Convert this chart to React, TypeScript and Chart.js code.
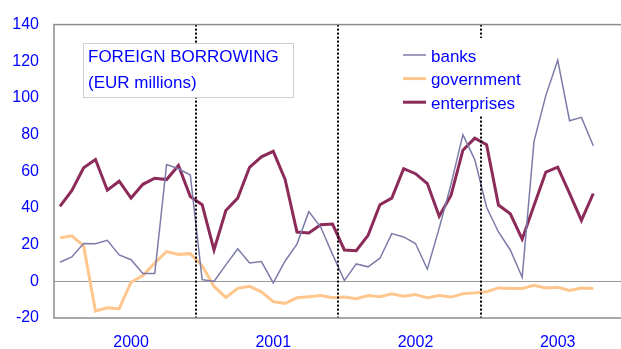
import React, { useEffect, useRef } from 'react';
import { Chart, registerables } from 'chart.js';

Chart.register(...registerables);

const years = ['2000', '2001', '2002', '2003'];
const months = ['Jan', 'Feb', 'Mar', 'Apr', 'May', 'Jun', 'Jul', 'Aug', 'Sep', 'Oct', 'Nov', 'Dec'];
const categories = years.flatMap((y) => months.map((m) => `${m} ${y}`));

const banks = [
  10.4, 13.3, 20.6, 20.5, 22.4, 14.4, 11.8, 4.3, 4.3, 63.7, 61.4, 58,
  0.9, 0, 9, 17.8, 10, 10.8, -0.9, 11.1, 20.3, 38, 29.6, 14.7,
  0.4, 9.5, 7.9, 12.6, 26, 24.2, 20.6, 6.6, 29, 53, 80, 66.4,
  40.4, 26.9, 17.1, 2.2, 76.3, 101.4, 120.6, 87.6, 89.4, 73.9,
];
const government = [
  23.7, 24.8, 19.4, -16.2, -14.4, -14.9, -0.5, 3.2, 10, 16.2, 14.7, 15.1,
  8.5, -2.8, -8.8, -3.8, -2.7, -5.7, -11.1, -12, -9, -8.4, -7.7, -9,
  -8.6, -9.5, -7.7, -8.4, -6.8, -8.1, -7.2, -9, -7.8, -8.6, -6.8, -6.3,
  -5.7, -3.6, -3.9, -3.9, -2.2, -3.6, -3.2, -5, -3.6, -3.9,
];
const enterprises = [
  40.9, 49.4, 61.9, 66.4, 49.7, 54.6, 45.4, 52.9, 56.2, 55.5, 63.2, 46.3,
  41.8, 17.1, 38.6, 45.4, 62.2, 67.9, 70.9, 55.6, 26.9, 26.4, 30.9, 31.2,
  17.1, 16.7, 25.1, 41.8, 45.4, 61.4, 58.7, 53.3, 35.5, 47, 71.5, 78.1,
  74.5, 41.6, 36.8, 23, 41.3, 59.6, 62.3, 47.9, 33.2, 47.9,
];
const yMin = -20;
const yMax = 140;
const yStep = 20;
const titleLines = ['FOREIGN BORROWING', '(EUR millions)'];

const FONT = '"Liberation Sans", Arial, sans-serif';
const BLUE = '#0000FF';

const decorPlugin = {
  id: 'decor',
  beforeDatasetsDraw(chart: any) {
    const { ctx, chartArea: a, scales } = chart;
    const y0 = Math.round(scales.y.getPixelForValue(0)) + 0.5;
    ctx.save();
    ctx.strokeStyle = '#9a9a9a';
    ctx.lineWidth = 1;
    ctx.beginPath();
    ctx.moveTo(a.left, y0);
    ctx.lineTo(a.right, y0);
    ctx.stroke();
    ctx.restore();
  },
  afterDatasetsDraw(chart: any) {
    const { ctx, chartArea: a, scales } = chart;
    const xs = scales.x;
    ctx.save();
    // year dividers
    ctx.strokeStyle = '#000000';
    ctx.lineWidth = 2;
    ctx.setLineDash([2, 2]);
    for (let k = 1; k < years.length; k++) {
      const idx = k * months.length;
      const px = Math.round((xs.getPixelForValue(idx - 1) + xs.getPixelForValue(idx)) / 2);
      ctx.beginPath();
      ctx.moveTo(px, a.top);
      ctx.lineTo(px, a.bottom);
      ctx.stroke();
    }
    ctx.setLineDash([]);
    // frame
    ctx.strokeStyle = '#8c8c8c';
    ctx.lineWidth = 1.5;
    ctx.strokeRect(a.left, a.top, a.right - a.left, a.bottom - a.top);

    // title box
    ctx.fillStyle = '#ffffff';
    ctx.fillRect(83, 43, 210, 54);
    ctx.strokeStyle = '#cfcfcf';
    ctx.lineWidth = 1;
    ctx.strokeRect(83.5, 43.5, 210, 54);
    ctx.fillStyle = BLUE;
    ctx.font = `17px ${FONT}`;
    ctx.textBaseline = 'alphabetic';
    ctx.textAlign = 'left';
    titleLines.forEach((t, i) => ctx.fillText(t, 88, 61.5 + i * 26.5));

    // legend
    ctx.fillStyle = '#ffffff';
    ctx.fillRect(398, 38, 130, 77);
    chart.data.datasets.forEach((ds: any, i: number) => {
      const ly = 55 + i * 23.6;
      ctx.strokeStyle = ds.borderColor;
      ctx.lineWidth = ds.borderWidth;
      ctx.beginPath();
      ctx.moveTo(403, ly);
      ctx.lineTo(426, ly);
      ctx.stroke();
      ctx.fillStyle = BLUE;
      ctx.font = `17px ${FONT}`;
      ctx.fillText(ds.label, 431, ly + 6.5);
    });
    ctx.restore();
  },
};

export default function App() {
  const ref = useRef<HTMLCanvasElement | null>(null);

  useEffect(() => {
    if (!ref.current) return;
    const chart = new Chart(ref.current, {
      type: 'line',
      data: {
        labels: categories,
        datasets: [
          {
            label: 'banks',
            data: banks,
            borderColor: '#7c7caa',
            borderWidth: 1.5,
            pointRadius: 0,
            tension: 0,
            fill: false,
          },
          {
            label: 'government',
            data: government,
            borderColor: '#ffc68e',
            borderWidth: 3,
            pointRadius: 0,
            tension: 0,
            fill: false,
          },
          {
            label: 'enterprises',
            data: enterprises,
            borderColor: '#8c2a5a',
            borderWidth: 3,
            pointRadius: 0,
            tension: 0,
            fill: false,
          },
        ],
      },
      options: {
        animation: false,
        responsive: false,
        devicePixelRatio: 1,
        layout: { padding: { top: 20, right: 2, left: 0, bottom: 0 } },
        plugins: {
          legend: { display: false },
          tooltip: { enabled: false },
          title: { display: false },
        },
        scales: {
          x: {
            type: 'category',
            offset: true,
            grid: { display: false, drawTicks: false },
            border: { display: false },
            ticks: {
              autoSkip: false,
              maxRotation: 0,
              padding: 15,
              color: BLUE,
              font: { family: FONT, size: 16 },
              callback: (_v: any, index: number) =>
                index % months.length === 6 ? years[Math.floor(index / months.length)] : '',
            },
            afterFit: (scale: any) => {
              scale.height = 31;
            },
          },
          y: {
            min: yMin,
            max: yMax,
            grid: { display: false, drawTicks: false },
            border: { display: false },
            ticks: {
              stepSize: yStep,
              padding: 15,
              color: BLUE,
              font: { family: FONT, size: 16 },
            },
            afterFit: (scale: any) => {
              scale.width = 54;
            },
          },
        },
      },
      plugins: [decorPlugin],
    });
    return () => chart.destroy();
  }, []);

  return (
    <div style={{ position: 'fixed', left: 0, top: 0, width: 621, height: 349, overflow: 'hidden', background: '#fff' }}>
      <canvas ref={ref} width={632} height={349} style={{ display: 'block' }} />
    </div>
  );
}
